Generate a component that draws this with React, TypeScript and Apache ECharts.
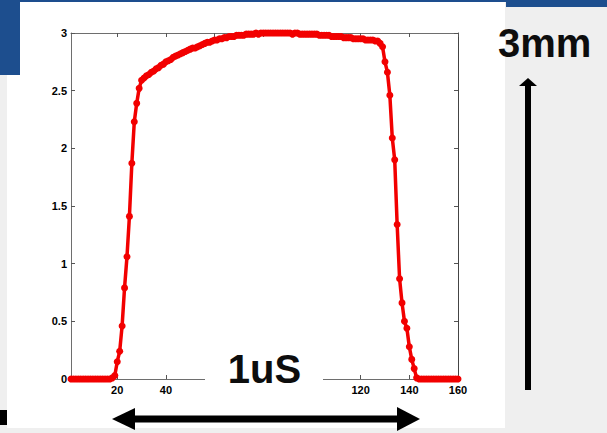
import React, { useEffect, useRef } from "react";
import * as echarts from "echarts";

// Sample index runs 1..160 along x.
const yValues: number[] = [
  0, 0, 0, 0, 0, 0, 0, 0, 0, 0, 0, 0, 0, 0, 0, 0, 0,
  0.01, 0.03, 0.15, 0.24, 0.46, 0.79, 1.06, 1.41, 1.87, 2.23, 2.39, 2.52, 2.59,
  2.61, 2.63, 2.64, 2.66, 2.67, 2.69, 2.70, 2.72, 2.73, 2.75,
  2.76, 2.77, 2.79, 2.80, 2.81, 2.82, 2.83, 2.84, 2.85, 2.86,
  2.87, 2.87, 2.88, 2.89, 2.90, 2.91, 2.92, 2.92, 2.93, 2.94,
  2.94, 2.95, 2.95, 2.96, 2.96, 2.97, 2.97, 2.97, 2.98, 2.98,
  2.98, 2.98, 2.99, 2.99, 2.99, 2.99, 3.00, 2.99, 3.00, 3.00,
  3.00, 3.00, 3.00, 3.00, 3.00, 3.00, 3.00, 3.00, 3.00, 3.00,
  3.00, 2.99, 3.00, 3.00, 2.99, 2.99, 2.99, 2.99, 2.99, 2.99,
  2.99, 2.99, 2.98, 2.98, 2.98, 2.98, 2.98, 2.97, 2.97, 2.97,
  2.97, 2.97, 2.96, 2.96, 2.96, 2.96, 2.95, 2.95, 2.95, 2.95,
  2.95, 2.94, 2.94, 2.94, 2.94, 2.93, 2.93, 2.91,
  2.88, 2.75, 2.66, 2.46, 2.09, 1.90, 1.34, 0.87, 0.66, 0.50, 0.44, 0.28, 0.17, 0.09, 0.01,
  0, 0, 0, 0, 0, 0, 0, 0, 0, 0, 0, 0, 0, 0, 0, 0, 0,
];

const xTickValues = [20, 40, 60, 80, 100, 120, 140, 160];
// 60, 80 and 100 are hidden behind the "1uS" label in the reference
const xLabelValues = [20, 40, 120, 140, 160];
const xMin = 1;
const xMax = 160;
const yMin = 0;
const yMax = 3;
const yStep = 0.5;
const heightLabel = "3mm";
const widthLabel = "1uS";

const FONT = "'Liberation Sans', Arial, sans-serif";
const BLUE = "#1d4e8e";

export default function App() {
  const ref = useRef<HTMLDivElement>(null);

  useEffect(() => {
    document.body.style.margin = "0";
    if (!ref.current) return;
    const chart = echarts.init(ref.current, undefined, { renderer: "svg" });

    const axisLabelStyle = {
      fontFamily: FONT,
      fontSize: 11,
      fontWeight: "bold" as const,
      color: "#000",
    };
    const lineColor = "#6e6e6e";

    const option: any = {
      animation: false,
      backgroundColor: "#efefef",
      grid: { left: 71, right: 149, top: 33, bottom: 54 },
      xAxis: [
        {
          type: "value",
          min: xMin,
          max: xMax,
          position: "bottom",
          axisLine: { show: true, onZero: false, lineStyle: { color: lineColor, width: 1 } },
          axisTick: { show: true, inside: true, length: 4, customValues: xTickValues, lineStyle: { color: "#555" } },
          axisLabel: { ...axisLabelStyle, margin: 5, customValues: xLabelValues },
          splitLine: { show: false },
        },
        {
          type: "value",
          min: xMin,
          max: xMax,
          position: "top",
          axisLine: { show: true, onZero: false, lineStyle: { color: lineColor, width: 1 } },
          axisTick: { show: true, inside: true, length: 4, customValues: xTickValues, lineStyle: { color: "#555" } },
          axisLabel: { show: false },
          splitLine: { show: false },
        },
      ],
      yAxis: [
        {
          type: "value",
          min: yMin,
          max: yMax,
          interval: yStep,
          position: "left",
          axisLine: { show: true, onZero: false, lineStyle: { color: lineColor, width: 1 } },
          axisTick: { show: true, inside: true, length: 4, lineStyle: { color: "#555" } },
          axisLabel: { ...axisLabelStyle, margin: 4 },
          splitLine: { show: false },
        },
        {
          type: "value",
          min: yMin,
          max: yMax,
          interval: yStep,
          position: "right",
          axisLine: { show: true, onZero: false, lineStyle: { color: "#444", width: 1 } },
          axisTick: { show: true, inside: true, length: 4, lineStyle: { color: "#555" } },
          axisLabel: { show: false },
          splitLine: { show: false },
        },
      ],
      series: [
        {
          type: "line",
          xAxisIndex: 0,
          yAxisIndex: 0,
          data: yValues.map((v, i) => [i + 1, v]),
          symbol: "circle",
          symbolSize: 7,
          showAllSymbol: true,
          lineStyle: { color: "#f20000", width: 3.5 },
          itemStyle: { color: "#f20000" },
          clip: false,
          z: 5,
        },
      ],
      graphic: [
        // slide background pieces
        { type: "rect", z: -20, shape: { x: 7, y: 2, width: 498, height: 426 }, style: { fill: "#ffffff" }, silent: true },
        { type: "rect", z: -19, shape: { x: 0, y: 0, width: 607, height: 2 }, style: { fill: BLUE }, silent: true },
        { type: "rect", z: -19, shape: { x: 0, y: 0, width: 20, height: 75 }, style: { fill: BLUE }, silent: true },
        { type: "rect", z: -19, shape: { x: 506, y: 0, width: 101, height: 7 }, style: { fill: BLUE }, silent: true },
        { type: "rect", z: -19, shape: { x: 0, y: 410, width: 7, height: 15 }, style: { fill: "#000" }, silent: true },
        // white box behind the width label
        { type: "rect", z: 100, shape: { x: 205, y: 342, width: 118, height: 60 }, style: { fill: "#ffffff" }, silent: true },
        {
          type: "text",
          z: 101,
          x: 264.5,
          y: 369,
          style: { text: widthLabel, fontFamily: FONT, fontSize: 40, fontWeight: "bold", fill: "#0d0d0d", align: "center", verticalAlign: "middle" },
          silent: true,
        },
        {
          type: "text",
          z: 101,
          x: 498,
          y: 43,
          style: { text: heightLabel, fontFamily: FONT, fontSize: 40, fontWeight: "bold", fill: "#0d0d0d", align: "left", verticalAlign: "middle" },
          silent: true,
        },
        // vertical arrow
        { type: "line", z: 101, shape: { x1: 528, y1: 85, x2: 528, y2: 390 }, style: { stroke: "#000", lineWidth: 6 }, silent: true },
        { type: "polygon", z: 101, shape: { points: [[519, 86], [537, 86], [528, 78]] }, style: { fill: "#000" }, silent: true },
        // horizontal double arrow
        { type: "line", z: 101, shape: { x1: 134, y1: 419, x2: 398, y2: 419 }, style: { stroke: "#000", lineWidth: 7 }, silent: true },
        { type: "polygon", z: 101, shape: { points: [[112, 419], [135, 408], [135, 430]] }, style: { fill: "#000" }, silent: true },
        { type: "polygon", z: 101, shape: { points: [[420, 419], [397, 407], [397, 431]] }, style: { fill: "#000" }, silent: true },
      ],
    };

    chart.setOption(option);
    return () => chart.dispose();
  }, []);

  return (
    <div
      ref={ref}
      style={{ position: "absolute", left: 0, top: 0, width: 607, height: 433 }}
    />
  );
}
